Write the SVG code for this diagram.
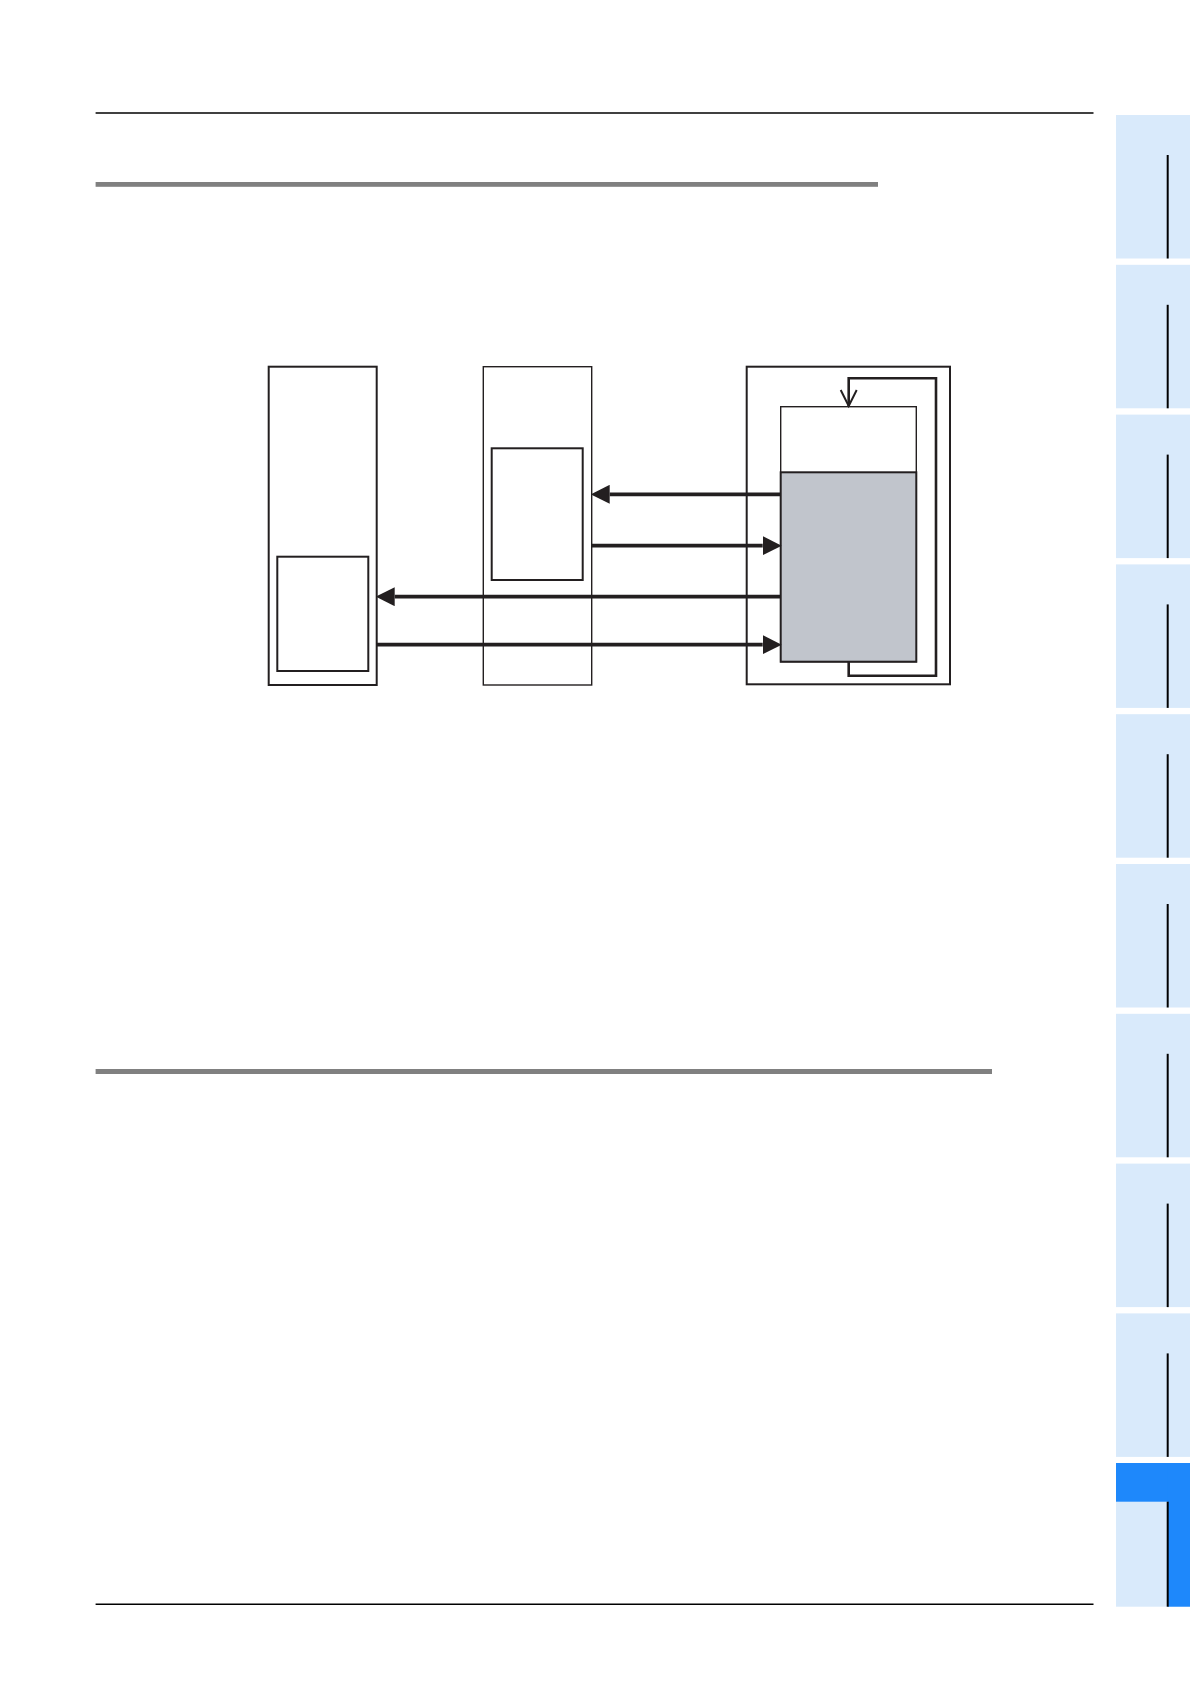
<svg xmlns="http://www.w3.org/2000/svg" width="1190" height="1684" viewBox="0 0 1190 1684">
<style>
.box{fill:#fff;stroke:#231f20}
.conn{stroke:#231f20;stroke-width:3.8;fill:none}
.tab{fill:#d9eafb}
.tabline{stroke:#000;stroke-width:2}
.rule{stroke:#000;stroke-width:1.6}
.bar{fill:#808080}
</style>
<defs>
<marker id="ah" markerUnits="userSpaceOnUse" markerWidth="19" markerHeight="19" refX="0" refY="9" orient="auto" viewBox="0 0 18 18">
<path d="M0,0 L18,9 L0,18 z" fill="#231f20"/>
</marker>
<marker id="open" markerUnits="userSpaceOnUse" markerWidth="20" markerHeight="20" refX="17" refY="9" orient="auto" viewBox="0 0 20 18">
<path d="M1,1 L17,9 L1,17" fill="none" stroke="#231f20" stroke-width="2"/>
</marker>
</defs>
<rect width="1190" height="1684" fill="#fff"/>
<g id="page">
<line class="rule" x1="95.6" y1="113" x2="1093.5" y2="113"/>
<line class="rule" x1="95.6" y1="1604.3" x2="1093.5" y2="1604.3"/>
<rect class="bar" x="95.6" y="182" width="782.4" height="4.8"/>
<rect class="bar" x="95.6" y="1069" width="896.4" height="5"/>
</g>
<g id="tabs">
<rect class="tab" x="1116" y="115" width="74" height="143.5"/><line class="tabline" x1="1167.7" y1="155" x2="1167.7" y2="258.5"/>
<rect class="tab" x="1116" y="264.8" width="74" height="143.5"/><line class="tabline" x1="1167.7" y1="304.8" x2="1167.7" y2="408.3"/>
<rect class="tab" x="1116" y="414.6" width="74" height="143.5"/><line class="tabline" x1="1167.7" y1="454.6" x2="1167.7" y2="558.1"/>
<rect class="tab" x="1116" y="564.4" width="74" height="143.5"/><line class="tabline" x1="1167.7" y1="604.4" x2="1167.7" y2="707.9"/>
<rect class="tab" x="1116" y="714.2" width="74" height="143.5"/><line class="tabline" x1="1167.7" y1="754.2" x2="1167.7" y2="857.7"/>
<rect class="tab" x="1116" y="864" width="74" height="143.5"/><line class="tabline" x1="1167.7" y1="904" x2="1167.7" y2="1007.5"/>
<rect class="tab" x="1116" y="1013.8" width="74" height="143.5"/><line class="tabline" x1="1167.7" y1="1053.8" x2="1167.7" y2="1157.3"/>
<rect class="tab" x="1116" y="1163.6" width="74" height="143.5"/><line class="tabline" x1="1167.7" y1="1203.6" x2="1167.7" y2="1307.1"/>
<rect class="tab" x="1116" y="1313.4" width="74" height="143.5"/><line class="tabline" x1="1167.7" y1="1353.4" x2="1167.7" y2="1456.9"/>
<rect class="tab" x="1116" y="1463" width="74" height="143.7"/>
<rect x="1116" y="1463" width="74" height="38.7" fill="#1e88fb"/>
<rect x="1167.7" y="1463" width="22.3" height="143.7" fill="#1e88fb"/>
<line class="tabline" x1="1167.7" y1="1501.7" x2="1167.7" y2="1606.7"/>
</g>
<g id="node-left">
<rect class="box" x="268.7" y="366.7" width="108" height="318.3" stroke-width="2"/>
<rect class="box" x="277.3" y="556.7" width="91" height="114.3" stroke-width="2"/>
</g>
<g id="node-middle">
<rect class="box" x="483.3" y="366.7" width="108.4" height="318.3" stroke-width="1.4"/>
<rect class="box" x="491.7" y="448.3" width="91" height="131.7" stroke-width="2"/>
</g>
<g id="node-right">
<rect class="box" x="746.7" y="366.7" width="203.3" height="317.6" stroke-width="2"/>
<rect class="box" x="780.7" y="406.7" width="135.6" height="255" stroke-width="1.4"/>
<rect x="780.7" y="472.3" width="135.6" height="189.4" fill="#c1c5cc" stroke="#231f20" stroke-width="2"/>
</g>
<g id="connectors">
<line class="conn" x1="780.7" y1="494.3" x2="609.7" y2="494.3" marker-end="url(#ah)"/>
<line class="conn" x1="591.7" y1="545.7" x2="762.7" y2="545.7" marker-end="url(#ah)"/>
<line class="conn" x1="780.7" y1="596.7" x2="394.7" y2="596.7" marker-end="url(#ah)"/>
<line class="conn" x1="376.7" y1="644.7" x2="762.7" y2="644.7" marker-end="url(#ah)"/>
<polyline fill="none" stroke="#231f20" stroke-width="2.6" points="848.7,661.7 848.7,675.7 936,675.7 936,378.3 848.7,378.3 848.7,406" marker-end="url(#open)"/>
</g>
</svg>
